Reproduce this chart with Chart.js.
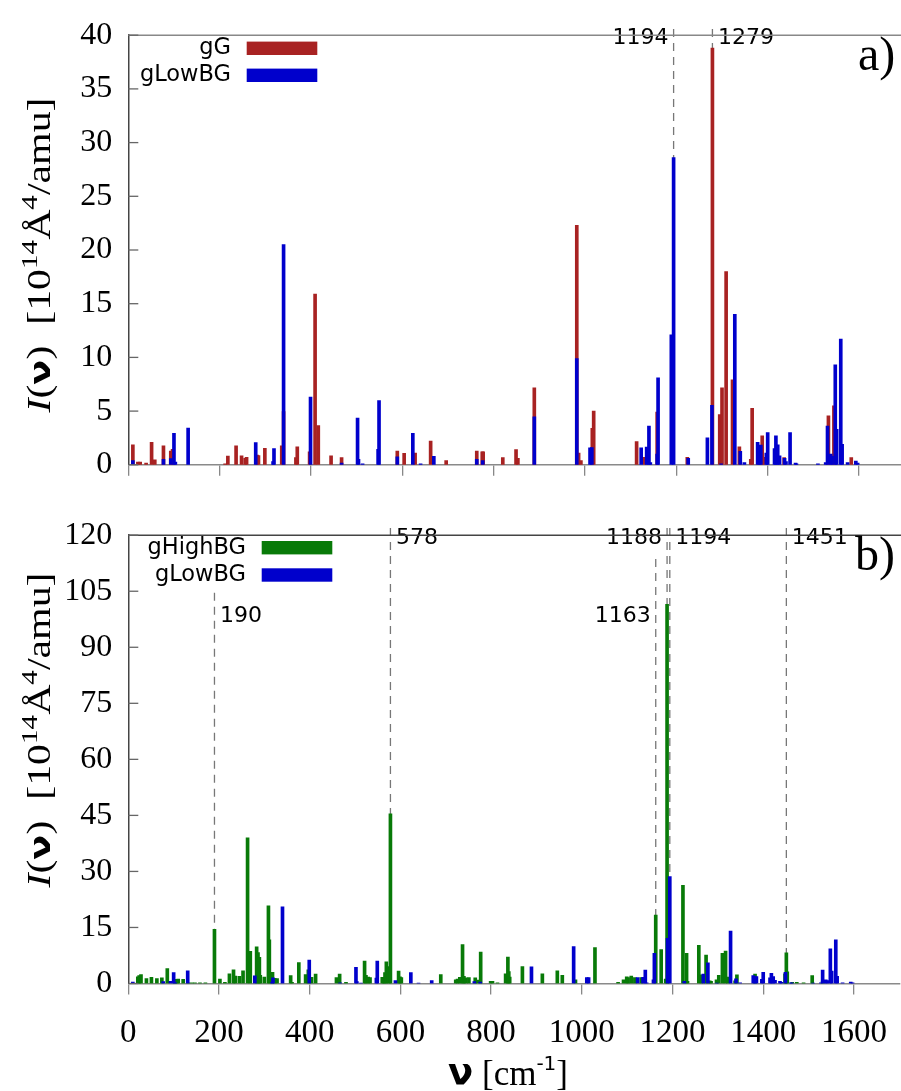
<!DOCTYPE html>
<html>
<head>
<meta charset="utf-8">
<script src="https://cdn.jsdelivr.net/npm/chart.js@4.4.1/dist/chart.umd.min.js"></script>
<style>
html, body { margin: 0; padding: 0; background: #fff; overflow: hidden; width: 901px; height: 1091px; }
#wrapA { position: absolute; left: 0; top: 0; width: 906px; height: 500px; }
#wrapB { position: absolute; left: 0; top: 500px; width: 906px; height: 591px; }
</style>
</head>
<body>
<div id="wrapA"><canvas id="chartA"></canvas></div>
<div id="wrapB"><canvas id="chartB"></canvas></div>
<script>
// stick spectra: wavenumber (cm-1) and intensity (10^14 Å^4/amu)
var nuTicks = [0, 200, 400, 600, 800, 1000, 1200, 1400, 1600];
var yTicksA = [0, 5, 10, 15, 20, 25, 30, 35, 40];
var yTicksB = [0, 15, 30, 45, 60, 75, 90, 105, 120];

var gG_nu = [10, 21, 26, 39, 51, 58, 77, 93, 97, 212, 218, 236, 248, 256, 259, 282, 285, 299, 336, 340, 367, 370, 397, 409, 416, 444, 467,
  589, 604, 628, 662, 696, 763, 775, 777, 820, 849, 853, 889, 982, 986, 991, 1016, 1019, 1113, 1131, 1158, 1224,
  1279, 1295, 1300, 1309, 1323, 1338, 1363, 1366, 1380, 1388, 1391, 1436, 1533, 1545, 1583];
var gG_I = [1.86, 0.26, 0.26, 0.15, 2.1, 0.46, 1.77, 1.28, 1.45, 0.1, 0.81, 1.77, 0.84, 0.6, 0.7, 0.9, 0.85, 1.54, 1.77, 4.96, 0.67, 1.68, 1.2, 15.9, 3.65, 0.84, 0.67,
  1.28, 1.07, 1.1, 2.2, 0.4, 1.28, 1.2, 1.2, 0.67, 1.42, 0.6, 7.16, 22.3, 1.1, 0.4, 3.39, 5.0, 2.17, 0.7, 4.9, 0.7,
  38.8, 4.67, 7.16, 18.0, 7.9, 1.68, 0.5, 5.25, 0.7, 2.7, 0.7, 0.67, 4.55, 5.5, 0.67];

var gLowBG_nu = [10, 77, 93, 100, 103, 131, 279, 317, 319, 340, 399, 467, 502, 504, 513, 547, 549, 589, 623, 640, 669, 763, 776,
  889, 982, 1011, 1015, 1123, 1135, 1140, 1143, 1158, 1160, 1189, 1194, 1226, 1268, 1278, 1298, 1328, 1340, 1349,
  1378, 1382, 1385, 1397, 1400, 1415, 1418, 1422, 1426, 1437, 1440, 1449, 1461, 1463, 1510, 1527, 1531, 1538, 1541,
  1548, 1551, 1560, 1563, 1575, 1593, 1597];
var gLowBG_I = [0.4, 0.5, 0.58, 2.93, 0.25, 3.42, 2.06, 0.3, 1.5, 20.5, 6.3, 0.15, 4.35, 0.5, 0.1, 1.45, 5.97, 0.75, 2.93, 0.1, 0.78, 0.5, 0.4,
  4.46, 9.88, 1.57, 1.6, 1.57, 1.65, 3.6, 0.2, 1.0, 8.1, 12.1, 28.6, 0.6, 2.5, 5.54, 0.1, 14.0, 1.25, 0.2,
  2.09, 1.77, 1.83, 1.1, 3.0, 1.5, 2.7, 1.86, 0.84, 0.6, 0.3, 3.0, 0.15, 0.1, 0.1, 0.2, 3.6, 1.0, 0.8,
  9.3, 3.3, 11.7, 1.9, 0.2, 0.35, 0.15];

var gHighBG_nu = [21, 24, 28, 40, 51, 63, 74, 86, 103, 107, 110, 121, 132, 140, 147, 158, 170, 190, 202, 213, 223, 232, 236, 245, 253,
  263, 269, 283, 286, 289, 291, 300, 309, 311, 318, 323, 328, 358, 361, 376, 391, 397, 404, 413, 459, 466, 480,
  521, 524, 529, 533, 560, 563, 566, 569, 574, 578, 596, 599, 602, 689, 722, 726, 731, 737, 740, 744, 751, 765, 770, 777,
  799, 803, 814, 832, 837, 839, 841, 869, 913, 946, 957, 986, 1029, 1080, 1092, 1099, 1102, 1109, 1117, 1131,
  1163, 1175, 1185, 1188, 1223, 1231, 1233, 1258, 1264, 1274, 1282, 1285, 1297, 1302, 1310, 1317, 1322, 1338, 1342,
  1382, 1448, 1451, 1453, 1464, 1474, 1489, 1508, 1531];
var gHighBG_I = [1.8, 2.1, 2.4, 1.3, 1.65, 1.3, 1.5, 4.0, 0.7, 1.1, 1.2, 1.1, 0.2, 0.2, 0.2, 0.2, 0.2, 14.5, 1.2, 0.3, 2.6, 3.65, 2.0, 1.9, 3.4,
  39.0, 8.6, 9.8, 8.3, 7.0, 2.2, 1.7, 20.8, 11.7, 3.0, 1.4, 1.3, 2.1, 0.3, 5.6, 2.4, 3.65, 1.65, 2.5, 1.6, 2.5, 0.3,
  6.0, 2.2, 1.7, 1.6, 1.65, 0.2, 2.9, 5.8, 4.5, 45.4, 3.3, 1.8, 1.6, 2.4, 1.0, 1.2, 1.65, 10.4, 1.9, 1.5, 1.6, 1.5, 0.9, 8.4,
  0.6, 0.6, 0.2, 2.6, 7.1, 3.2, 1.7, 4.5, 2.6, 3.4, 2.2, 1.0, 9.6, 0.3, 1.0, 1.8, 1.6, 2.0, 1.6, 1.6,
  18.3, 9.1, 1.2, 101.5, 26.3, 8.1, 0.6, 10.2, 2.35, 7.6, 0.7, 0.6, 1.0, 2.2, 8.1, 8.7, 1.7, 0.7, 2.3,
  2.5, 2.6, 8.2, 3.1, 0.3, 0.3, 0.15, 2.1, 0.5];

var marksA = [1194, 1279];
var marksB = [190, 578, 1163, 1188, 1194, 1451];

var RED = '#a82222';
var BLUE = '#0000cc';
var GREEN = '#087a08';

function pts(nu, I) {
  return nu.map(function (x, i) { return { x: x, y: I[i] }; });
}

function serif(px) { return px + 'px "Liberation Serif"'; }

function richWidth(ctx, parts) {
  var w = 0;
  parts.forEach(function (p) { ctx.font = p.font; w += ctx.measureText(p.t).width; });
  return w;
}

function drawRich(ctx, parts, x, y) {
  var cx = x;
  parts.forEach(function (p) {
    ctx.font = p.font;
    ctx.fillText(p.t, cx, y + (p.dy || 0));
    cx += ctx.measureText(p.t).width;
  });
}

// y title parts
var yTitleParts = [
  { t: 'I', font: 'italic 33px "Liberation Serif"' },
  { t: '(', font: serif(33) },
  { t: 'ν', font: 'bold 29px "DejaVu Sans"' },
  { t: ')', font: serif(33) },
  { t: '\u2002[10', font: serif(33) },
  { t: '14', font: serif(23), dy: -13 },
  { t: 'Å', font: serif(33) },
  { t: '4', font: serif(23), dy: -13 },
  { t: '/amu]', font: serif(33) }
];
var xTitleParts = [
  { t: 'ν', font: 'bold 37px "DejaVu Sans"' },
  { t: ' [cm', font: serif(35) },
  { t: '-1', font: '20px "DejaVu Sans"', dy: -15 },
  { t: ']', font: serif(35) }
];

function makeDecor(cfg) {
  return {
    id: 'decor',
    beforeDatasetsDraw: function (chart) {
      var ctx = chart.ctx, xs = chart.scales.x, area = chart.chartArea;
      ctx.save();
      // dashed marker lines
      cfg.marks.forEach(function (m) {
        var px = xs.getPixelForValue(m.nu);
        ctx.strokeStyle = '#777';
        ctx.lineWidth = 1.3;
        ctx.setLineDash([8, 6]);
        ctx.beginPath();
        ctx.moveTo(px, m.from);
        ctx.lineTo(px, area.bottom);
        ctx.stroke();
        ctx.setLineDash([]);
        ctx.fillStyle = '#000';
        ctx.font = '22px "DejaVu Sans"';
        ctx.textBaseline = 'middle';
        ctx.textAlign = m.side === 'left' ? 'right' : 'left';
        ctx.fillText(String(m.nu), m.side === 'left' ? px - 5 : px + 5.5, m.ly);
      });
      ctx.restore();
    },
    afterDraw: function (chart) {
      var ctx = chart.ctx, area = chart.chartArea, ys = chart.scales.y;
      ctx.save();
      // top frame line
      ctx.strokeStyle = cfg.topColor;
      ctx.lineWidth = 1.5;
      ctx.beginPath();
      ctx.moveTo(area.left, area.top);
      ctx.lineTo(area.right + 5, area.top);
      ctx.stroke();
      // inward y ticks
      ctx.strokeStyle = '#666';
      ctx.lineWidth = 1.3;
      cfg.yTicks.forEach(function (v) {
        var py = ys.getPixelForValue(v);
        ctx.beginPath();
        ctx.moveTo(area.left, py);
        ctx.lineTo(area.left + 10, py);
        ctx.stroke();
      });
      // legend (text right-aligned, swatch on the right)
      chart.data.datasets.slice().reverse().forEach(function (ds, i) {
        var row = cfg.legend.rows[i];
        ctx.fillStyle = '#000';
        ctx.font = '22.5px "DejaVu Sans"';
        ctx.textAlign = 'right';
        ctx.textBaseline = 'middle';
        ctx.fillText(ds.label, cfg.legend.textRight, row);
        ctx.fillStyle = ds.backgroundColor;
        ctx.fillRect(cfg.legend.sx0, row - 6.7, cfg.legend.sx1 - cfg.legend.sx0, 13.4);
      });
      // panel label
      ctx.fillStyle = '#000';
      ctx.font = serif(48);
      ctx.textAlign = 'left';
      ctx.textBaseline = 'alphabetic';
      ctx.fillText(cfg.panel, cfg.panelX, cfg.panelY);
      // y title, rotated
      var w = richWidth(ctx, yTitleParts);
      ctx.save();
      ctx.translate(50, cfg.yTitleY);
      ctx.rotate(-Math.PI / 2);
      ctx.scale(315 / w, 1);
      ctx.textAlign = 'left';
      drawRich(ctx, yTitleParts, -w / 2, 0);
      ctx.restore();
      // x title
      if (cfg.xTitle) {
        var wx = richWidth(ctx, xTitleParts);
        ctx.textAlign = 'left';
        drawRich(ctx, xTitleParts, 508 - wx / 2, cfg.xTitleY);
      }
      ctx.restore();
    }
  };
}

function makeChart(id, datasets, yMax, yTicks, cfg) {
  return new Chart(document.getElementById(id), {
    type: 'bar',
    data: { datasets: datasets },
    options: {
      responsive: true,
      maintainAspectRatio: false,
      animation: false,
      layout: { padding: { top: cfg.padTop, right: 1.3, bottom: 0, left: 0 } },
      plugins: { legend: { display: false }, tooltip: { enabled: false } },
      scales: {
        x: {
          type: 'linear', min: 0, max: 1700, offset: false,
          afterBuildTicks: function (s) { s.ticks = nuTicks.map(function (v) { return { value: v }; }); },
          afterFit: function (s) { s.height = cfg.xHeight; },
          grid: { offset: false, drawOnChartArea: false, drawTicks: true, tickLength: 11, color: '#888', lineWidth: 1.3 },
          border: { display: true, color: '#8a8a8a', width: 1.5 },
          ticks: {
            display: cfg.xLabels, font: { family: 'Liberation Serif', size: 33 }, color: '#000', padding: 19,
            maxRotation: 0, autoSkip: false,
            callback: function (v) { return String(v); }
          }
        },
        y: {
          min: 0, max: yMax,
          afterBuildTicks: function (s) { s.ticks = yTicks.map(function (v) { return { value: v }; }); },
          afterFit: function (s) { s.width = 128.3; },
          grid: { display: false, drawTicks: false },
          border: { display: true, color: '#444', width: 1.5 },
          ticks: { font: { family: 'Liberation Serif', size: 32 }, color: '#000', padding: 16 }
        }
      }
    },
    plugins: [makeDecor(cfg)]
  });
}

function bars(label, nu, I, color, order) {
  return { label: label, data: pts(nu, I), backgroundColor: color, borderWidth: 0, barThickness: 3, grouped: false, order: order };
}

makeChart('chartA', [
  bars('gLowBG', gLowBG_nu, gLowBG_I, BLUE, 1),
  bars('gG', gG_nu, gG_I, RED, 2)
], 40, yTicksA, {
  padTop: 24, xHeight: 16.5, xLabels: false, topColor: '#888',
  marks: [
    { nu: marksA[0], from: 29, side: 'left', ly: 38.5 },
    { nu: marksA[1], from: 29, side: 'right', ly: 38.5 }
  ],
  yTicks: yTicksA,
  legend: { textRight: 231, sx0: 246.7, sx1: 317.3, rows: [48.3, 75.3] },
  panel: 'a)', panelX: 858, panelY: 70,
  yTitleY: 255, xTitle: false
});

makeChart('chartB', [
  bars('gLowBG', gLowBG_nu, gLowBG_I, BLUE, 1),
  bars('gHighBG', gHighBG_nu, gHighBG_I, GREEN, 2)
], 120, yTicksB, {
  padTop: 23.5, xHeight: 107.5, xLabels: true, topColor: '#444',
  marks: [
    { nu: marksB[0], from: 92.7, side: 'right', ly: 116 },
    { nu: marksB[1], from: 28, side: 'right', ly: 38.3 },
    { nu: marksB[2], from: 59, side: 'left', ly: 116 },
    { nu: marksB[3], from: 28, side: 'left', ly: 38.3 },
    { nu: marksB[4], from: 28, side: 'right', ly: 38.3 },
    { nu: marksB[5], from: 28, side: 'right', ly: 38.3 }
  ],
  yTicks: yTicksB,
  legend: { textRight: 246, sx0: 261.7, sx1: 332.3, rows: [47.7, 75] },
  panel: 'b)', panelX: 855, panelY: 70,
  yTitleY: 230, xTitle: true, xTitleY: 585
});
</script>
</body>
</html>
